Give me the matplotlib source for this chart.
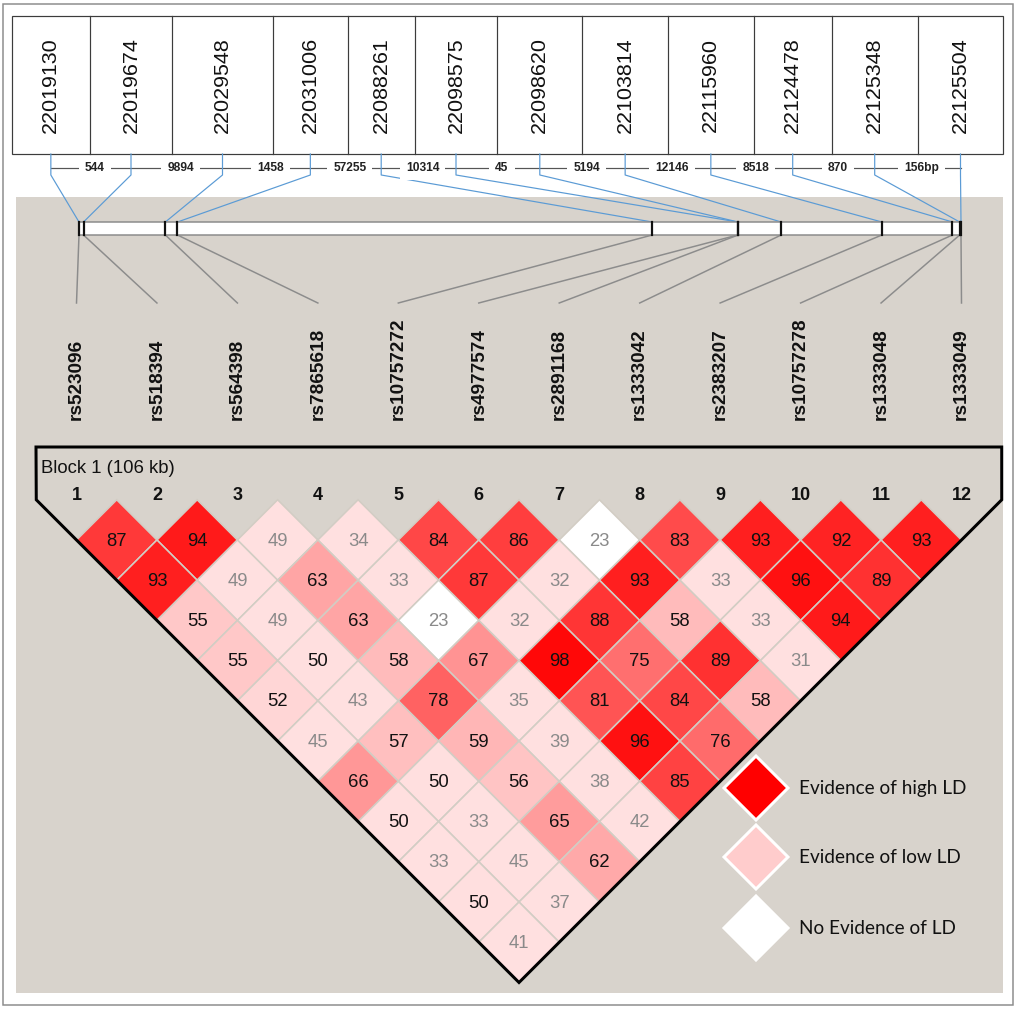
import numpy as np
import matplotlib
matplotlib.use('Agg')
import matplotlib.pyplot as plt
from matplotlib.patches import Polygon, Rectangle
from matplotlib import font_manager

# dados do grafico
positions = [22019130, 22019674, 22029548, 22031006, 22088261, 22098575,
             22098620, 22103814, 22115960, 22124478, 22125348, 22125504]
snps = ['rs523096', 'rs518394', 'rs564398', 'rs7865618', 'rs10757272', 'rs4977574',
        'rs2891168', 'rs1333042', 'rs2383207', 'rs10757278', 'rs1333048', 'rs1333049']
distance_labels = ['544', '9894', '1458', '57255', '10314', '45',
                   '5194', '12146', '8518', '870', '156bp']
block_label = 'Block 1 (106 kb)'

# valores de D' por diagonal (distancia entre marcadores = 1, 2, ...)
ld_rows = [
    [87, 94, 49, 34, 84, 86, 23, 83, 93, 92, 93],
    [93, 49, 63, 33, 87, 32, 93, 33, 96, 89],
    [55, 49, 63, 23, 32, 88, 58, 33, 94],
    [55, 50, 58, 67, 98, 75, 89, 31],
    [52, 43, 78, 35, 81, 84, 58],
    [45, 57, 59, 39, 96, 76],
    [66, 50, 56, 38, 85],
    [50, 33, 65, 42],
    [33, 45, 62],
    [50, 37],
    [41],
]
# pares sem evidencia de LD (caixas brancas)
no_ld_pairs = [(7, 8), (4, 7)]

legend_labels = ['Evidence of high LD', 'Evidence of low LD', 'No Evidence of LD']
legend_colors = ['#ff0000', '#ffcccc', '#ffffff']

# layout (pixels)
box_edges = [11.7, 90, 172, 273, 347.7, 414.7, 497.3, 582.3, 668, 753.7, 831.7, 917.7, 1003.3]
col_x = np.linspace(76.5, 961.5, 12)
half = (col_x[1] - col_x[0]) / 2
row0_y = 540
bar_x0, bar_x1 = 79, 961
bg = '#d8d3cc'
PT = 0.72  # px -> pt com dpi=100

names = {f.name for f in font_manager.fontManager.ttflist}
if 'Liberation Sans Narrow' in names:
    pos_font, pos_size = 'Liberation Sans Narrow', 25
else:
    pos_font, pos_size = 'Liberation Sans', 21.5
plt.rcParams['font.family'] = ['Liberation Sans', 'DejaVu Sans']

fig = plt.figure(figsize=(10.24, 10.13), dpi=100)
ax = fig.add_axes([0, 0, 1, 1])
ax.set_xlim(0, 1024)
ax.set_ylim(1013, 0)
ax.axis('off')

# moldura externa
ax.add_patch(Rectangle((3, 4), 1010, 1001, fill=False, ec='#8c8c8c', lw=1.5 * PT))
# painel cinza
ax.add_patch(Rectangle((16, 197), 987, 796, fc=bg, ec='none'))

# caixa das posicoes
ax.add_patch(Rectangle((box_edges[0], 16), box_edges[-1] - box_edges[0], 138,
                       fill=False, ec='#3c3c3c', lw=1.2 * PT))
label_x = []
for k in range(len(positions)):
    if k > 0:
        ax.plot([box_edges[k], box_edges[k]], [16, 154], color='#3c3c3c', lw=1.2 * PT)
    cx = (box_edges[k] + box_edges[k + 1]) / 2
    label_x.append(cx)
    ax.text(cx, 85, str(positions[k]), rotation=90, ha='center', va='center',
            fontsize=pos_size * PT, family=[pos_font, 'DejaVu Sans'], color='#111111')

# linha das distancias
ax.plot([label_x[0], label_x[-1]], [168, 168], color='#555555', lw=1.2 * PT, zorder=1)
for k, lab in enumerate(distance_labels):
    mx = (label_x[k] + label_x[k + 1]) / 2 + 4
    ax.text(mx, 168, lab, ha='center', va='center', fontsize=12 * PT, fontweight='bold',
            color='#222222', zorder=2,
            bbox=dict(boxstyle='square,pad=0.5', fc='white', ec='none'))

# barra do cromossomo
scale = (bar_x1 - bar_x0) / (positions[-1] - positions[0])
phys_x = [bar_x0 + (p - positions[0]) * scale for p in positions]
ax.add_patch(Rectangle((bar_x0, 222), bar_x1 - bar_x0, 13, fc='white', ec='#8a8a8a',
                       lw=1.5 * PT, zorder=2))
for k in range(len(positions)):
    ax.plot([label_x[k], label_x[k], phys_x[k]], [154, 175, 222], color='#5b9bd5',
            lw=1.2 * PT, zorder=1)
    ax.plot([phys_x[k], phys_x[k]], [222, 235], color='#111111', lw=2.2 * PT, zorder=3)
    ax.plot([phys_x[k], col_x[k]], [235, 303], color='#8c8c8c', lw=1.5 * PT, zorder=1)
    ax.text(col_x[k], 420, snps[k], rotation=90, ha='center', va='bottom',
            fontsize=19 * PT, fontweight='bold', color='#111111')

# triangulo do bloco
top_y = row0_y - half
apex = ((col_x[0] + col_x[-1]) / 2, top_y + (col_x[-1] - col_x[0]) / 2 + half)
tri = [(36, 447), (col_x[-1] + half, 447), (col_x[-1] + half, top_y),
       apex, (col_x[0] - half, top_y)]
ax.add_patch(Polygon(tri, closed=True, fill=False, ec='black', lw=3 * PT,
                     joinstyle='miter', zorder=6))
ax.text(41, 468, block_label, ha='left', va='center', fontsize=18.5 * PT, color='#111111')
for k in range(len(snps)):
    ax.text(col_x[k], 495, str(k + 1), ha='center', va='center', fontsize=18 * PT,
            fontweight='bold', color='#111111')


def ld_color(v, white):
    if white:
        return '#ffffff'
    d = v / 100
    if d < 0.5:
        return (1, 224 / 255, 224 / 255)
    gb = int(446 * (1 - d)) / 255
    return (1, gb, gb)


for r, row in enumerate(ld_rows):
    dist = r + 1
    for i, v in enumerate(row):
        a, b = i, i + dist
        cx = (col_x[a] + col_x[b]) / 2
        cy = row0_y + r * half
        white = (a + 1, b + 1) in no_ld_pairs
        diamond = [(cx, cy - half), (cx + half, cy), (cx, cy + half), (cx - half, cy)]
        ax.add_patch(Polygon(diamond, closed=True, fc=ld_color(v, white), ec='#d2cdc4',
                             lw=1.6 * PT, zorder=4))
        tcol = '#111111' if v >= 50 else '#8a8a8a'
        ax.text(cx, cy + 1, str(v), ha='center', va='center', fontsize=18.5 * PT,
                color=tcol, zorder=5)

# legenda
leg_y = [788, 857, 928]
lh = 32
for k in range(3):
    cx, cy = 756, leg_y[k]
    diamond = [(cx, cy - lh), (cx + lh, cy), (cx, cy + lh), (cx - lh, cy)]
    ax.add_patch(Polygon(diamond, closed=True, fc=legend_colors[k], ec='white',
                         lw=3 * PT, zorder=7))
    ax.text(799, cy, legend_labels[k], ha='left', va='center', fontsize=19 * PT,
            family=['Lato', 'DejaVu Sans'], color='#111111', zorder=7)

fig.savefig('out.png', dpi=100)
